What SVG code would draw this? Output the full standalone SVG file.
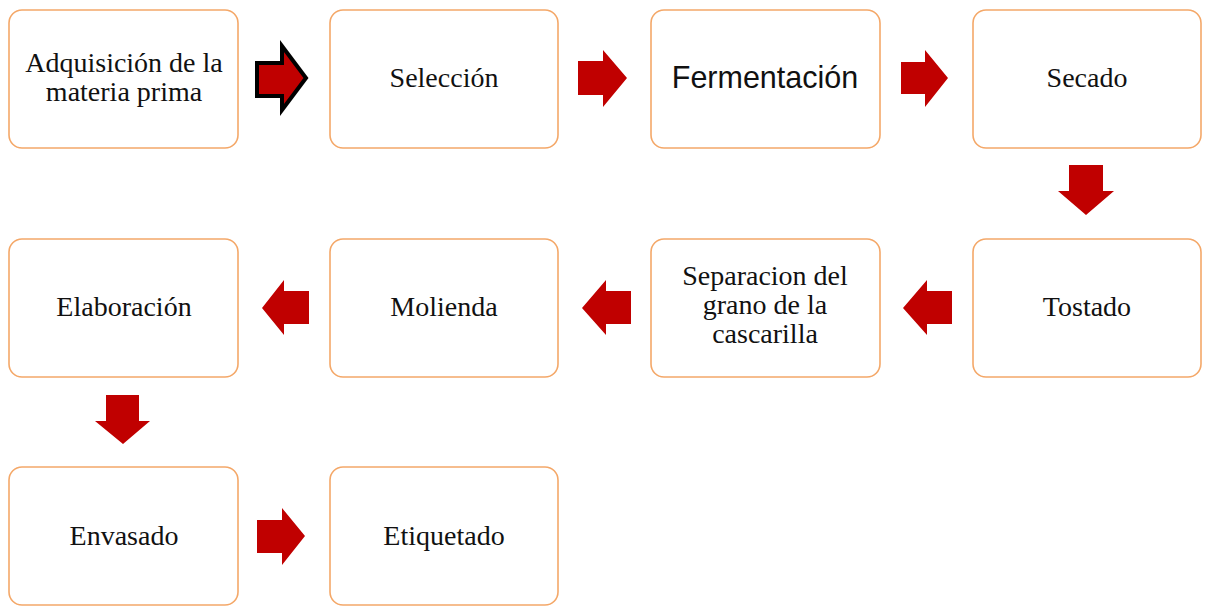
<svg xmlns="http://www.w3.org/2000/svg" width="1206" height="606" viewBox="0 0 1206 606">
<style>
.box{fill:#ffffff;stroke:#F4A869;stroke-width:1.6}
.t{font-family:"Liberation Serif","Times New Roman",serif;font-size:28px;fill:#111;text-anchor:middle}
.s{font-family:"Liberation Sans",Arial,sans-serif;font-size:30.5px;fill:#111;text-anchor:middle}
.arr{fill:#C00000}
</style>
<rect width="1206" height="606" fill="#ffffff"/>
<g id="n1"><rect class="box" x="9" y="10" width="229" height="138" rx="13"/><text class="t" x="124" y="72">Adquisición de la</text><text class="t" x="124" y="101">materia prima</text></g>
<g id="n2"><rect class="box" x="330" y="10" width="228" height="138" rx="13"/><text class="t" x="444" y="87">Selección</text></g>
<g id="n3"><rect class="box" x="651" y="10" width="229" height="138" rx="13"/><text class="s" x="765" y="88">Fermentación</text></g>
<g id="n4"><rect class="box" x="973" y="10" width="228" height="138" rx="13"/><text class="t" x="1087" y="87">Secado</text></g>
<g id="n5"><rect class="box" x="973" y="239" width="228" height="138" rx="13"/><text class="t" x="1087" y="316">Tostado</text></g>
<g id="n6"><rect class="box" x="651" y="239" width="229" height="138" rx="13"/><text class="t" x="765" y="285">Separacion del</text><text class="t" x="765" y="314">grano de la</text><text class="t" x="765" y="343">cascarilla</text></g>
<g id="n7"><rect class="box" x="330" y="239" width="228" height="138" rx="13"/><text class="t" x="444" y="316">Molienda</text></g>
<g id="n8"><rect class="box" x="9" y="239" width="229" height="138" rx="13"/><text class="t" x="124" y="316">Elaboración</text></g>
<g id="n9"><rect class="box" x="9" y="467" width="229" height="138" rx="13"/><text class="t" x="124" y="545">Envasado</text></g>
<g id="n10"><rect class="box" x="330" y="467" width="228" height="138" rx="13"/><text class="t" x="444" y="545">Etiquetado</text></g>
<g id="connectors">
<polygon points="257,63 282,63 282,46 306,78 282,110 282,96 257,96" fill="#C00000" stroke="#000" stroke-width="4" stroke-linejoin="miter"/>
<polygon class="arr" points="578,61 603,61 603,50 627,78 603,107 603,95 578,95"/>
<polygon class="arr" points="901,62 925,62 925,50 948,78 925,107 925,94 901,94"/>
<polygon class="arr" points="1069,165 1103,165 1103,191 1114,191 1086,215 1058,191 1069,191"/>
<polygon class="arr" points="952,291 927,291 927,280 903,308 927,335 927,324 952,324"/>
<polygon class="arr" points="631,291 606,291 606,280 582,308 606,335 606,324 631,324"/>
<polygon class="arr" points="309,291 284,291 284,280 262,308 284,335 284,324 309,324"/>
<polygon class="arr" points="106,395 139,395 139,421 150,421 123,444 95,421 106,421"/>
<polygon class="arr" points="257,520 282,520 282,508 305,536 282,565 282,553 257,553"/>
</g>
</svg>
